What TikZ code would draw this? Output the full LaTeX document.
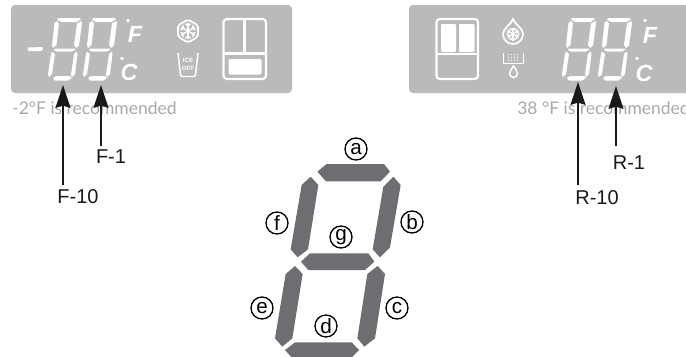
\documentclass[tikz,border=0pt]{standalone}
\usepackage{fontspec}
\setmainfont{Liberation Sans}
\newfontfamily\panelfont{Lato}
\newfontfamily\iconfont{Liberation Sans}
\usetikzlibrary{arrows.meta}
\definecolor{panel}{HTML}{B9BABC}
\definecolor{segdark}{HTML}{6D6E71}
\definecolor{hint}{HTML}{A7A9AC}
\tikzset{
  panelbox/.style={fill=panel,rounded corners=3},
  seg/.style={fill=white,draw=none},
  bigseg/.style={fill=segdark,draw=none},
  iconline/.style={draw=white,line width=1.6pt,rounded corners=2.5,fill=none},
  thin icon/.style={draw=white,line width=.95pt,fill=none},
  callout/.style={draw=black!90,line width=1.9pt,-{Stealth[width=11pt,length=17pt,inset=1.5pt]}},
  lab/.style={font=\fontsize{15}{17}\selectfont,text=black!90,inner sep=0},
  hinttext/.style={font=\panelfont\fontsize{13.1}{15}\selectfont,text=hint,inner sep=0,anchor=west},
  circ/.style={circle,draw=black,line width=1pt,minimum size=16.5pt,inner sep=0,font=\fontsize{15.5}{17}\selectfont},
  unit/.style={font=\bfseries\itshape\fontsize{17.5}{19}\selectfont,text=white,inner sep=0}
}
\newcommand{\smalldigit}[2]{%
 \begin{scope}[shift={(#1,#2)}]
  \fill[seg] (10,0)--(31,0)--(33,1)--(29,4)--(13,4)--(9,2)--cycle;
  \fill[seg] (8.5,3)--(11,5.5)--(8.5,27)--(5,30)--(4,27.5)--(6.5,5)--cycle;
  \fill[seg] (33.5,3)--(34,5)--(31,27.5)--(28,30)--(26,27)--(29,5.5)--cycle;
  \fill[seg] (7,30.5)--(26,30.5)--(27.5,31.5)--(24,33.5)--(9,33.5)--(6,32)--cycle;
  \fill[seg] (4,33.5)--(7,36)--(4,56)--(1,59)--(0,56.5)--(3,36)--cycle;
  \fill[seg] (28.5,33.5)--(29.5,36)--(27,56)--(24,59)--(23,56.5)--(26,36)--cycle;
  \fill[seg] (5,60)--(8,58)--(22,58)--(24,60)--(20,62.5)--(7,62.5)--cycle;
 \end{scope}}
% three crossing lines with a small V at every arm end
\newcommand{\flake}[3]{%
 \foreach \a in {0,60,...,300}{
  \begin{scope}[shift={(#1,#2)},rotate=\a]
   \draw[thin icon] (0,0)--(0,-#3);
   \draw[thin icon] (-2.6,{-#3+.6})--(0,{-#3+3.2})--(2.6,{-#3+.6});
  \end{scope}
 }}
\begin{document}
\begin{tikzpicture}[x=.75pt,y=-.75pt]
\useasboundingbox (0,0) rectangle (686,357);
\begin{scope}
\clip (0,0) rectangle (686,357);
% panels
\fill[panelbox] (11,5) rectangle (292,93);
\fill[panelbox] (409,5) rectangle (700,93);
% left display
\fill[seg] (28,47.5)--(42,47)--(43,49)--(41,51)--(29,51)--(27.5,49.5)--cycle;
\smalldigit{48}{18}
\smalldigit{83}{18}
\fill[white] (128,20.5) circle (1.8);
\fill[white] (122,58.5) circle (1.8);
\node[unit] (lf) at (135,34) {F};
\node[unit] (lc) at (129,72) {C};
% left flake hexagon
\draw[iconline,line width=1.3pt,rounded corners=1.5] (188,19.5)--(198,25.3)--(198,36.7)--(188,42.5)--(178,36.7)--(178,25.3)--cycle;
\flake{188}{31}{8}
% cup
\draw[thin icon,line width=1.1pt] (178,53)--(180.5,75)--(182,76.5)--(194,76.5)--(195.5,75)--(198,53);
\node[text=white,font=\iconfont\bfseries\fontsize{4.6}{5.6}\selectfont,align=center,inner sep=0] (iceoff) at (188,64.5) {ICE\\OFF};
% left fridge
\draw[iconline] (223.5,19) rectangle (266,79);
\draw[iconline,rounded corners=0] (223.5,53.5)--(266,53.5);
\draw[iconline,rounded corners=0] (244.5,19)--(244.5,53.5);
\fill[white,rounded corners=1] (228.5,59) rectangle (261.5,74.5);
% right fridge
\draw[iconline] (436.5,19) rectangle (478,79);
\draw[iconline,rounded corners=0] (436.5,54)--(478,54);
\fill[white,rounded corners=.8] (441,24) rectangle (456,52);
\fill[white,rounded corners=.8] (459,24) rectangle (474.5,52);
% drop
\draw[iconline,line width=1.3pt,rounded corners=0] (513,19) .. controls (511,25) and (503,28) .. (503,34) arc[start angle=180,end angle=0,radius=10] .. controls (523,28) and (515,25) .. (513,19) -- cycle;
\flake{513}{34}{6.5}
% tray
\draw[thin icon,line width=1.2pt] (503.5,53)--(503.5,63.5)--(523.5,63.5)--(523.5,53);
\foreach \i in {0,1,2,3}\foreach \j in {0,1,2}{\fill[white] (508.5+\i*3,54.5+\j*2.8) circle (.7);}
\draw[thin icon,line width=1.1pt] (513.5,66) .. controls (512,69) and (509.5,71) .. (509.5,73.5) arc[start angle=180,end angle=0,radius=4] .. controls (517.5,71) and (515,69) .. (513.5,66) -- cycle;
% right display
\smalldigit{562}{18}
\smalldigit{598}{18}
\fill[white] (645,20.5) circle (1.8);
\fill[white] (637,58.5) circle (1.8);
\node[unit] (rf) at (650,35) {F};
\node[unit] (rc) at (644,73) {C};
% hints
\node[hinttext] (lh) at (12,108.5) {-2°F is recommended};
\node[hinttext] (rh) at (517,108.5) {38 °F is recommended};
% big digit
\begin{scope}[shift={(250,120)},x=.25pt,y=-.25pt]
 \fill[bigseg] (230,132)--(402,132)--(420,155)--(392,184)--(228,184)--(202,155)--cycle;
 \fill[bigseg] (430,170)--(452,195)--(420,382)--(390,412)--(368,388)--(400,200)--cycle;
 \fill[bigseg] (182,170)--(205,195)--(174,388)--(143,412)--(122,388)--(155,195)--cycle;
 \fill[bigseg] (180,400)--(355,400)--(373,425)--(345,450)--(175,450)--(153,425)--cycle;
 \fill[bigseg] (135,438)--(158,462)--(127,655)--(97,680)--(75,655)--(107,462)--cycle;
 \fill[bigseg] (383,438)--(405,462)--(375,655)--(343,680)--(322,655)--(352,462)--cycle;
 \fill[bigseg] (135,667)--(305,667)--(327,690)--(300,718)--(130,718)--(105,690)--cycle;
\end{scope}
\end{scope}
\node[circ] (a) at (356,149) {a};
\node[circ] (b) at (412,222) {b};
\node[circ] (c) at (397,308) {c};
\node[circ] (d) at (326,326) {d};
\node[circ] (e) at (262,308) {e};
\node[circ] (f) at (277,223) {f};
\node[circ] (g) at (341,237) {g};
% labels and arrows
\node[lab] (F1) at (111,157) {F-1};
\node[lab] (F10) at (78,197) {F-10};
\node[lab] (R1) at (629,163) {R-1};
\node[lab] (R10) at (597,198) {R-10};
\coordinate (f1s) at (101,146);\coordinate (f1t) at (101,85);
\coordinate (f10s) at (63,185);\coordinate (f10t) at (63,85);
\coordinate (r1s) at (616,146);\coordinate (r1t) at (616,86);
\coordinate (r10s) at (578,185);\coordinate (r10t) at (578,82);
\draw[callout] (f1s)--(f1t);
\draw[callout] (f10s)--(f10t);
\draw[callout] (r1s)--(r1t);
\draw[callout] (r10s)--(r10t);
\end{tikzpicture}
\end{document}
